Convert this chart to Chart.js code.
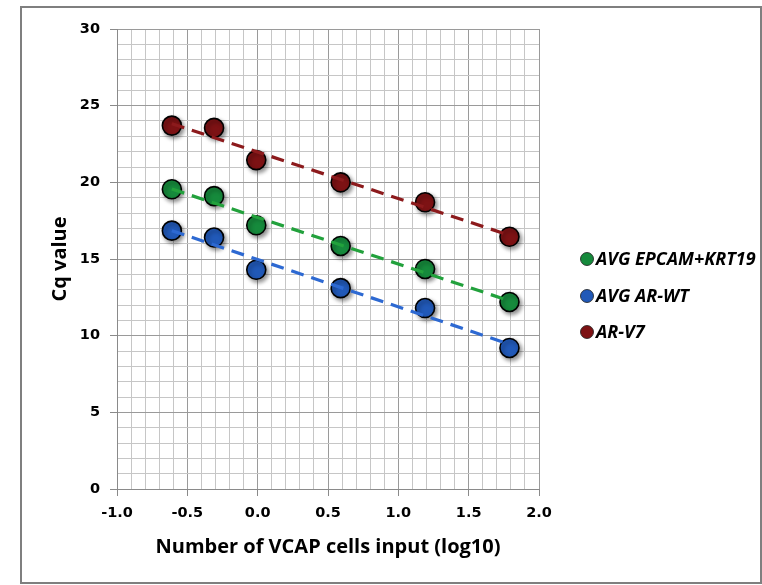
<!DOCTYPE html>
<html>
<head>
<meta charset="utf-8">
<script src="https://cdn.jsdelivr.net/npm/chart.js@4.4.1/dist/chart.umd.min.js"></script>
<style>
  html, body { margin: 0; padding: 0; background: #ffffff; }
  #wrap { width: 762px; height: 585px; position: relative; }
</style>
</head>
<body>
<div id="wrap"><canvas id="c" width="762" height="585"></canvas></div>
<script>
// ---- data ----
const xValues = [-0.61, -0.31, -0.01, 0.59, 1.19, 1.79];
const seriesNames = ['AVG EPCAM+KRT19', 'AVG AR-WT', 'AR-V7'];
const epcamKrt19 = [19.55, 19.1, 17.2, 15.85, 14.35, 12.2];
const arWT = [16.85, 16.4, 14.3, 13.1, 11.8, 9.2];
const arV7 = [23.7, 23.55, 21.45, 20.0, 18.7, 16.45];
const xTickMin = -1.0, xTickMax = 2.0, xMajor = 0.5, xMinor = 0.1;
const yTickMin = 0, yTickMax = 30, yMajor = 5, yMinor = 1;
const xTitle = 'Number of VCAP cells input (log10)';
const yTitle = 'Cq value';

// ---- styles ----
const markerColors = ['#168a3c', '#2159b8', '#7d1214'];
const lineColors = ['#22a13c', '#2d69d2', '#8c1a1c'];
const seriesValues = [epcamKrt19, arWT, arV7];

function pts(ys) { return xValues.map((x, i) => ({ x: x, y: ys[i] })); }
function trend(ys) {
  const n = xValues.length;
  const mx = xValues.reduce((a, b) => a + b, 0) / n;
  const my = ys.reduce((a, b) => a + b, 0) / n;
  let sxy = 0, sxx = 0;
  for (let i = 0; i < n; i++) { sxy += (xValues[i] - mx) * (ys[i] - my); sxx += (xValues[i] - mx) ** 2; }
  const b = sxy / sxx, a = my - b * mx;
  const x0 = Math.min(...xValues), x1 = Math.max(...xValues);
  return [{ x: x0, y: a + b * x0 }, { x: x1, y: a + b * x1 }];
}

const datasets = [];
seriesValues.forEach((ys, i) => {
  datasets.push({
    label: seriesNames[i],
    data: pts(ys),
    showLine: false,
    pointRadius: 9.5,
    pointHoverRadius: 9.5,
    pointBackgroundColor: markerColors[i],
    pointBorderColor: '#000000',
    pointBorderWidth: 1.6,
    backgroundColor: markerColors[i],
    order: 2,
    isMarker: true
  });
});
seriesValues.forEach((ys, i) => {
  datasets.push({
    label: seriesNames[i] + ' trend',
    data: trend(ys),
    showLine: true,
    borderColor: lineColors[i],
    borderWidth: 3.2,
    borderDash: [13, 8],
    pointRadius: 0,
    pointHoverRadius: 0,
    fill: false,
    order: 1,
    isMarker: false
  });
});

const isMajor = (v, step) => Math.abs(v / step - Math.round(v / step)) < 1e-6;

const frame = {
  id: 'frame',
  afterDraw(chart) {
    const ctx = chart.ctx;
    ctx.save();
    ctx.strokeStyle = '#7f7f7f';
    ctx.lineWidth = 2;
    ctx.strokeRect(21, 7, 740, 576);
    ctx.restore();
  }
};

const shadow = {
  id: 'shadow',
  beforeDatasetDraw(chart, args) {
    const ds = chart.data.datasets[args.index];
    const ctx = chart.ctx;
    ctx.save();
    if (ds.isMarker) {
      ctx.shadowColor = 'rgba(0,0,0,0.45)';
      ctx.shadowBlur = 4;
      ctx.shadowOffsetX = 2;
      ctx.shadowOffsetY = 2.5;
    }
  },
  afterDatasetDraw(chart) { chart.ctx.restore(); }
};

const customLegend = {
  id: 'customLegend',
  afterDraw(chart) {
    const ctx = chart.ctx;
    const x0 = 587, ys = [259, 296, 332];
    ctx.save();
    chart.data.datasets.filter(d => d.isMarker).forEach((d, i) => {
      ctx.beginPath();
      ctx.arc(x0, ys[i], 6.5, 0, Math.PI * 2);
      ctx.fillStyle = d.backgroundColor;
      ctx.fill();
      ctx.lineWidth = 0.8;
      ctx.strokeStyle = '#1a1a1a';
      ctx.stroke();
      ctx.fillStyle = '#000000';
      ctx.font = 'italic bold 18px "Open Sans"';
      ctx.textBaseline = 'middle';
      ctx.textAlign = 'left';
      ctx.fillText(d.label, 596, ys[i] + 1);
    });
    ctx.restore();
  }
};

new Chart(document.getElementById('c'), {
  type: 'scatter',
  data: { datasets: datasets },
  plugins: [shadow, customLegend, frame],
  options: {
    responsive: false,
    animation: false,
    devicePixelRatio: 1,
    layout: { padding: { left: 0, top: 29, right: 223, bottom: 0 } },
    plugins: { legend: { display: false }, tooltip: { enabled: false } },
    scales: {
      x: {
        type: 'linear',
        min: xTickMin, max: xTickMax,
        afterFit(s) { s.height = 96; },
        ticks: {
          stepSize: xMinor,
          autoSkip: false,
          maxRotation: 0,
          padding: 9,
          color: '#000000',
          font: { family: '"DejaVu Sans"', size: 14.5, weight: 'bold' },
          callback: (v) => isMajor(v, xMajor) ? Number(v).toFixed(1) : ''
        },
        grid: {
          color: (c) => isMajor(c.tick.value, xMajor) ? '#9a9a9a' : '#c6c6c6',
          tickColor: (c) => isMajor(c.tick.value, xMajor) ? '#8a8a8a' : 'rgba(0,0,0,0)',
          tickLength: 7,
          lineWidth: 1
        },
        border: { color: '#8a8a8a', width: 1 },
        title: {
          display: true, text: xTitle, color: '#000000',
          font: { family: '"Open Sans"', size: 20, weight: 'bold' },
          padding: { top: 0, bottom: 26 }
        }
      },
      y: {
        type: 'linear',
        min: yTickMin, max: yTickMax,
        afterFit(s) { s.width = 117; },
        ticks: {
          stepSize: yMinor,
          autoSkip: false,
          padding: 10,
          color: '#000000',
          font: { family: '"DejaVu Sans"', size: 14.5, weight: 'bold' },
          callback: (v) => isMajor(v, yMajor) ? String(v) : ''
        },
        grid: {
          color: (c) => isMajor(c.tick.value, yMajor) ? '#9a9a9a' : '#c6c6c6',
          tickColor: (c) => isMajor(c.tick.value, yMajor) ? '#8a8a8a' : 'rgba(0,0,0,0)',
          tickLength: 7,
          lineWidth: 1
        },
        border: { color: '#8a8a8a', width: 1 },
        title: {
          display: true, text: yTitle, color: '#000000',
          font: { family: '"Open Sans"', size: 20, weight: 'bold' },
          padding: { top: 48, bottom: 0 }
        }
      }
    }
  }
});
</script>
</body>
</html>
